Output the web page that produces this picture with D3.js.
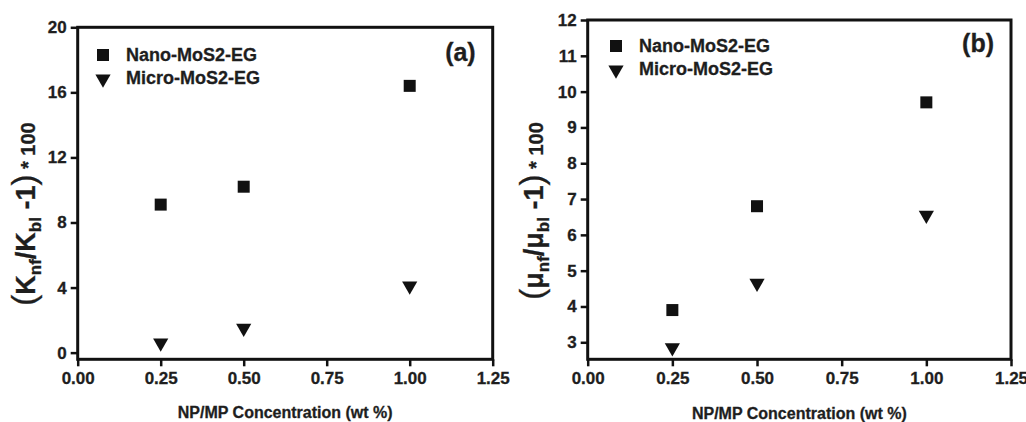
<!DOCTYPE html>
<html><head><meta charset="utf-8">
<script src="https://cdn.jsdelivr.net/npm/d3@7"></script>
<style>
body{margin:0;background:#fff;}
svg text{font-family:"Liberation Sans",Arial,sans-serif;font-weight:bold;fill:#1e1e1e;}
</style></head>
<body>
<svg id="c" width="1026" height="422"></svg>
<script>
const concentrations = [0.25, 0.5, 1.0];
const seriesNames = ["Nano-MoS2-EG", "Micro-MoS2-EG"];
const thermalNano = [9.1, 10.2, 16.4];
const thermalMicro = [0.6, 1.5, 4.1];
const viscNano = [3.9, 6.8, 9.7];
const viscMicro = [2.85, 4.65, 6.55];
const xTicks = [0, 0.25, 0.5, 0.75, 1.0, 1.25];
const yTicksA = [0, 4, 8, 12, 16, 20];
const yTicksB = [3, 4, 5, 6, 7, 8, 9, 10, 11, 12];

const svg = d3.select("#c");
const FONT = '"Liberation Sans",Arial,sans-serif';

function panel(opt){
  const g = svg.append("g");
  const x = d3.scaleLinear().domain([0,1.25]).range([opt.left, opt.right]);
  const y = d3.scaleLinear().domain(opt.ydom).range([opt.bottom, opt.top]);
  const xa = g.append("g").attr("transform",`translate(0,${opt.bottom})`)
    .call(d3.axisBottom(x).tickValues(xTicks).tickFormat(d3.format(".2f")).tickSize(7).tickPadding(6));
  const ya = g.append("g").attr("transform",`translate(${opt.left},0)`)
    .call(d3.axisLeft(y).tickValues(opt.yticks).tickFormat(d3.format("d")).tickSize(7).tickPadding(4));
  [xa,ya].forEach(a=>{
    a.attr("font-family",FONT).attr("font-size",17).attr("font-weight","bold");
    a.select(".domain").remove();
    a.selectAll("line").attr("stroke","#111").attr("stroke-width",2.5);
    a.selectAll("text").attr("fill","#1e1e1e").style("font-size","17px").style("font-weight","bold")
      .attr("stroke","#1e1e1e").attr("stroke-width",0.3);
  });
  g.append("rect").attr("x",opt.left).attr("y",opt.top)
    .attr("width",opt.right-opt.left).attr("height",opt.bottom-opt.top)
    .attr("fill","none").attr("stroke","#111").attr("stroke-width",3);
  const sq = d3.symbol().type(d3.symbolSquare).size(144);
  const tri = d3.symbol().type(d3.symbolTriangle).size(100);
  g.selectAll(".nano").data(concentrations.map((c,i)=>[c,opt.nano[i]])).join("path")
    .attr("d",sq).attr("fill","#111")
    .attr("transform",d=>`translate(${x(d[0])},${y(d[1])})`);
  g.selectAll(".micro").data(concentrations.map((c,i)=>[c,opt.micro[i]])).join("path")
    .attr("d",tri).attr("fill","#111")
    .attr("transform",d=>`translate(${x(d[0])},${y(d[1])}) rotate(180)`);
  g.append("path").attr("d",sq).attr("fill","#111")
    .attr("transform",`translate(${opt.leg[0]},${opt.leg[1]})`);
  g.append("path").attr("d",tri).attr("fill","#111")
    .attr("transform",`translate(${opt.leg[0]},${opt.leg[1]+24}) rotate(180)`);
  g.append("text").attr("x",opt.leg[0]+23).attr("y",opt.leg[1]+6).text(seriesNames[0])
    .style("font-size","18px").attr("stroke","#1e1e1e").attr("stroke-width",0.3);
  g.append("text").attr("x",opt.leg[0]+23).attr("y",opt.leg[1]+29).text(seriesNames[1])
    .style("font-size","18px").attr("stroke","#1e1e1e").attr("stroke-width",0.3);
  g.append("text").attr("x",opt.right-17).attr("y",opt.leg[1]+6).attr("text-anchor","end")
    .text(opt.tag).style("font-size","25px").attr("stroke","#1e1e1e").attr("stroke-width",0.3);
  g.append("text").attr("x",(opt.left+opt.right)/2).attr("y",opt.xly).attr("text-anchor","middle")
    .text("NP/MP Concentration (wt %)").style("font-size","16px").attr("stroke","#1e1e1e").attr("stroke-width",0.3);
  const yl = g.append("text").attr("transform",`translate(${opt.ylx},${opt.yly}) rotate(-90)`)
    .attr("text-anchor","middle").attr("stroke","#1e1e1e").attr("stroke-width",0.3);
  yl.append("tspan").text("(").style("font-size","33px").style("font-weight","normal");
  yl.append("tspan").text(opt.sym).style("font-size","27px");
  yl.append("tspan").text("nf").style("font-size","17px").attr("dy",6);
  yl.append("tspan").text("/").style("font-size","27px").attr("dy",-6);
  yl.append("tspan").text(opt.sym).style("font-size","27px");
  yl.append("tspan").text("bl").style("font-size","17px").attr("dy",6);
  yl.append("tspan").text(" -1").style("font-size","27px").attr("dy",-6);
  yl.append("tspan").text(")").style("font-size","33px").style("font-weight","normal");
  yl.append("tspan").text(" * 100").style("font-size","20px");
}

panel({left:77.7,right:492.7,top:27.3,bottom:359.3,ydom:[-0.41,20],yticks:yTicksA,
  nano:thermalNano,micro:thermalMicro,leg:[103,55],tag:"(a)",sym:"K",ylx:35,yly:214,xly:418});
panel({left:587.7,right:1011,top:20,bottom:359.3,ydom:[2.525,12],yticks:yTicksB,
  nano:viscNano,micro:viscMicro,leg:[616,46],tag:"(b)",sym:"μ",ylx:543,yly:211,xly:419});
</script>
</body></html>
